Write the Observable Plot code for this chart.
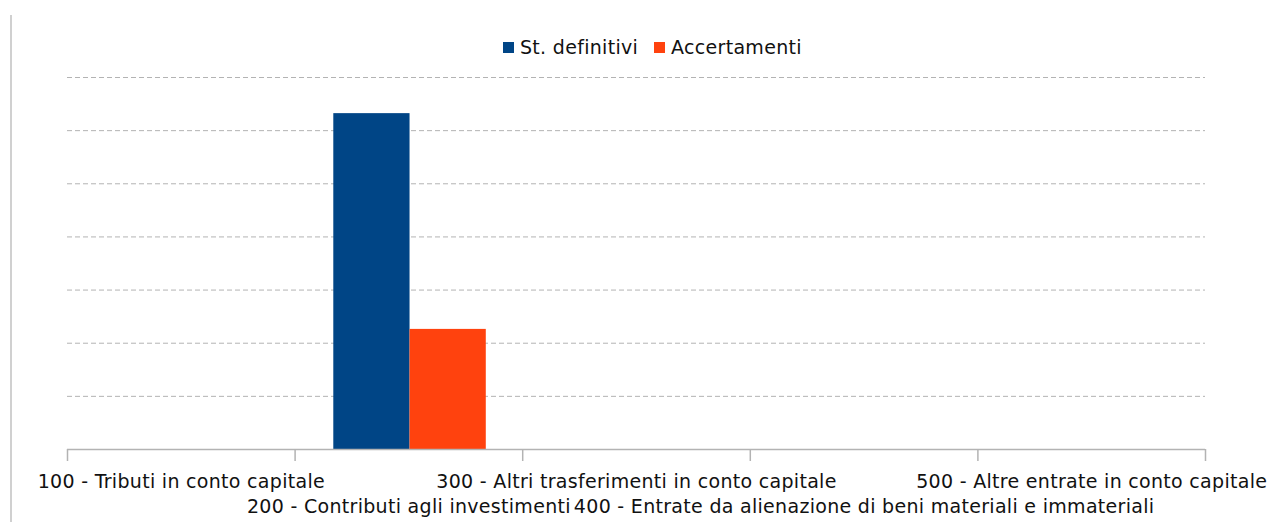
<!DOCTYPE html>
<html>
<head>
<meta charset="utf-8">
<script src="https://cdn.jsdelivr.net/npm/d3@7"></script>
<script src="https://cdn.jsdelivr.net/npm/@observablehq/plot@0.6"></script>
<style>
  html, body { margin: 0; padding: 0; background: #fff; }
  body { width: 1282px; height: 522px; position: relative; overflow: hidden; font-family: "DejaVu Sans", sans-serif; }
  #vline { position: absolute; left: 10px; top: 15px; width: 2px; height: 507px; background: #d0d0d0; z-index: 5; }
  #legend { position: absolute; top: 36px; left: 503px; height: 22px; display: flex; align-items: center; font-size: 19px; letter-spacing: 0.3px; color: #111; white-space: nowrap; }
  #legend .sw { display: inline-block; width: 11px; height: 11px; margin-right: 6px; }
  #legend .item { display: flex; align-items: center; margin-right: 16px; }
  #chart { position: absolute; top: 62px; left: 0; }
</style>
</head>
<body>
<div id="vline"></div>
<div id="legend"></div>
<div id="chart"></div>
<script>
const categories = [
  "100 - Tributi in conto capitale",
  "200 - Contributi agli investimenti",
  "300 - Altri trasferimenti in conto capitale",
  "400 - Entrate da alienazione di beni materiali e immateriali",
  "500 - Altre entrate in conto capitale"
];
const series = ["St. definitivi", "Accertamenti"];
const stDefinitivi = [0, 6.32, 0, 0, 0];
const accertamenti = [0, 2.26, 0, 0, 0];
const seriesColors = ["#004586", "#ff420e"];
const gridValues = [1, 2, 3, 4, 5, 6, 7];

const seriesValues = [stDefinitivi, accertamenti];
const rows = categories.flatMap((c, i) => series.map((s, j) => ({cat: c, i, s, j, v: seriesValues[j][i]})));

// legend
const legend = document.getElementById("legend");
series.forEach((s, j) => {
  const it = document.createElement("span");
  it.className = "item";
  const sw = document.createElement("span");
  sw.className = "sw";
  sw.style.background = seriesColors[j];
  it.appendChild(sw);
  it.appendChild(document.createTextNode(s));
  legend.appendChild(it);
});

const groupStart = 0.17, barW = 0.335;
const labeled = categories.map((c, i) => ({c, i}));

const chart = Plot.plot({
  width: 1282,
  height: 460,
  marginTop: 15,
  marginLeft: 67,
  marginRight: 77,
  marginBottom: 73,
  style: {fontFamily: "DejaVu Sans, sans-serif", fontSize: "19px", letterSpacing: "0.3px", color: "#111", background: "transparent", overflow: "visible"},
  x: {type: "linear", domain: [0, categories.length], axis: null},
  y: {domain: [0, 7], axis: null},
  color: {domain: series, range: seriesColors},
  marks: [
    Plot.ruleY(gridValues, {stroke: "#b3b3b3", strokeDasharray: "5,3", strokeWidth: 1}),
    Plot.rectY(rows.filter(d => d.v > 0), {
      x1: d => d.i + groupStart + d.j * barW,
      x2: d => d.i + groupStart + (d.j + 1) * barW,
      y1: 0, y2: "v", fill: "s"
    }),
    Plot.ruleY([0], {stroke: "#b3b3b3", strokeWidth: 1.5}),
    Plot.axisX({ticks: d3.range(categories.length + 1), tickSize: 12, tickFormat: () => "", stroke: "#b3b3b3", strokeWidth: 1.5}),
    Plot.text(labeled.filter(d => d.i % 2 === 0), {x: d => d.i + 0.5, y: 0, text: "c", dy: 32, fill: "#111"}),
    Plot.text(labeled.filter(d => d.i % 2 === 1), {x: d => d.i + 0.5, y: 0, text: "c", dy: 57, fill: "#111"})
  ]
});
document.getElementById("chart").appendChild(chart);
</script>
</body>
</html>
